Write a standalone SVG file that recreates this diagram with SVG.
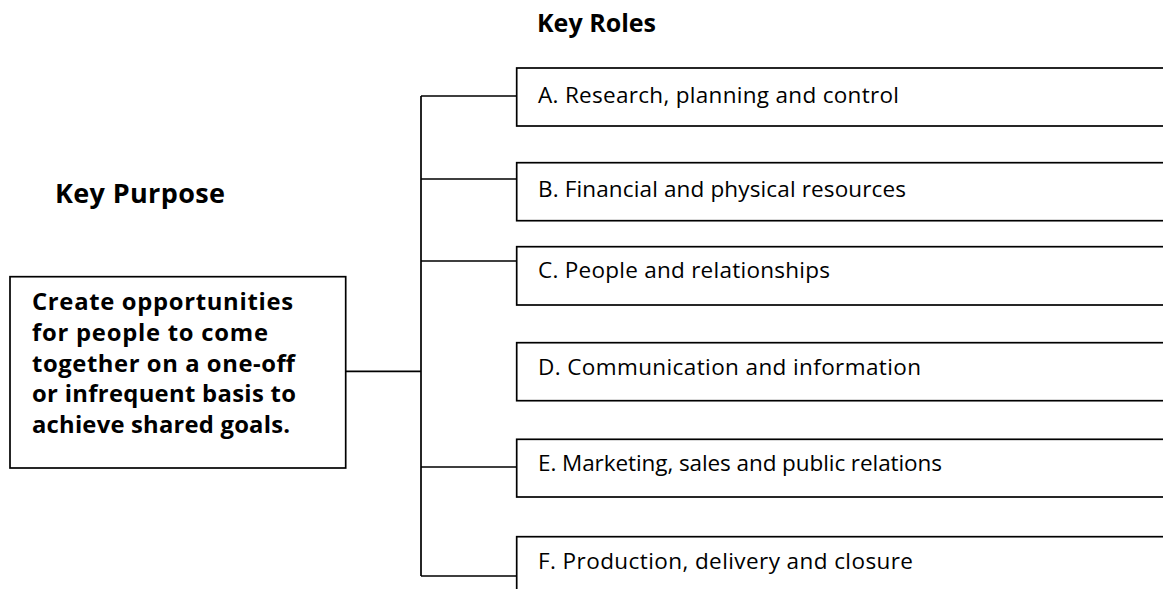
<svg xmlns="http://www.w3.org/2000/svg" width="1163" height="589" viewBox="0 0 1163 589">
<style>
.box{fill:#fff;stroke:#000;stroke-width:1.7}
.conn{fill:none;stroke:#000;stroke-width:1.7}
.role{font-family:"Open Sans","Liberation Sans",sans-serif;font-size:22.5px;fill:#000}
.purp{font-family:"Open Sans","Liberation Sans",sans-serif;font-size:23.8px;font-weight:bold;fill:#000}
.head{font-family:"Open Sans","Liberation Sans",sans-serif;font-weight:bold;fill:#000}
</style>
<rect width="1163" height="589" fill="#fff"/>
<g id="connectors">
<path class="conn" d="M345.5 371.3H421M421 96V576M421 96H516.7M421 179H516.7M421 261H516.7M421 467H516.7M421 576H516.7"/>
</g>
<g id="title-roles"><text class="head" x="537" y="32" font-size="25" textLength="119" lengthAdjust="spacing">Key Roles</text></g>
<g id="title-purpose"><text class="head" x="55" y="203" font-size="27" textLength="170" lengthAdjust="spacing">Key Purpose</text></g>
<g id="purpose">
<rect class="box" x="10" y="276.7" width="335.7" height="191.3"/>
<text class="purp"><tspan x="32" y="310" textLength="261" lengthAdjust="spacing">Create opportunities</tspan><tspan x="32" y="341" textLength="236" lengthAdjust="spacing">for people to come</tspan><tspan x="32" y="372" textLength="263" lengthAdjust="spacing">together on a one-off</tspan><tspan x="32" y="402" textLength="264" lengthAdjust="spacing">or infrequent basis to</tspan><tspan x="32" y="433" textLength="258" lengthAdjust="spacing">achieve shared goals.</tspan></text>
</g>
<g id="roleA"><rect class="box" x="516.7" y="68" width="660" height="58"/><text class="role" x="538" y="103" textLength="361" lengthAdjust="spacing">A. Research, planning and control</text></g>
<g id="roleB"><rect class="box" x="516.7" y="162.7" width="660" height="58"/><text class="role" x="538" y="197" textLength="368" lengthAdjust="spacing">B. Financial and physical resources</text></g>
<g id="roleC"><rect class="box" x="516.7" y="246.7" width="660" height="58.3"/><text class="role" x="538" y="278" textLength="292" lengthAdjust="spacing">C. People and relationships</text></g>
<g id="roleD"><rect class="box" x="516.7" y="342.7" width="660" height="58"/><text class="role" x="538" y="375" textLength="383" lengthAdjust="spacing">D. Communication and information</text></g>
<g id="roleE"><rect class="box" x="516.7" y="439.3" width="660" height="57.7"/><text class="role" x="538" y="471" textLength="404" lengthAdjust="spacing">E. Marketing, sales and public relations</text></g>
<g id="roleF"><rect class="box" x="516.7" y="536.7" width="660" height="70"/><text class="role" x="538" y="569" textLength="375" lengthAdjust="spacing">F. Production, delivery and closure</text></g>
</svg>
